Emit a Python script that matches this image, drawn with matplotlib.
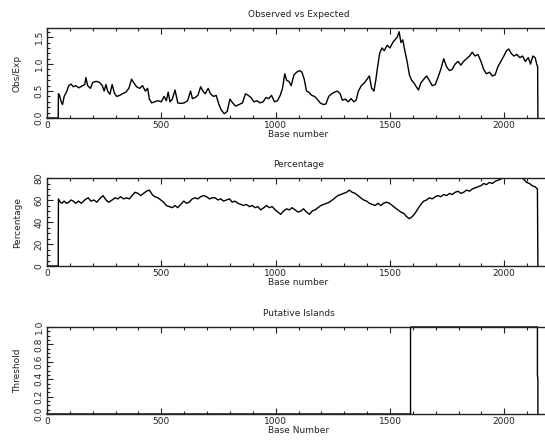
import matplotlib
matplotlib.use("Agg")
import matplotlib.pyplot as plt
from matplotlib.ticker import MultipleLocator

# Observed vs Expected (base, ratio)
obs_base = [0, 49, 50, 55, 62, 68, 75, 85, 95, 105, 115, 125, 140, 155, 165, 170, 178, 190, 200, 215,
            230, 242, 250, 258, 265, 275, 285, 295, 305, 318, 330, 345, 358, 370, 380, 392, 405, 418,
            430, 440, 448, 458, 470, 485, 500, 512, 522, 530, 538, 548, 560, 572, 585, 600, 615, 628,
            636, 648, 660, 672, 682, 692, 705, 715, 728, 740, 752, 762, 775, 788, 800, 812, 825, 840,
            855, 868, 880, 892, 905, 918, 932, 945, 958, 970, 982, 995, 1008, 1020, 1030, 1040, 1048,
            1058, 1068, 1080, 1092, 1105, 1115, 1125, 1135, 1145, 1158, 1170, 1182, 1195, 1208, 1220,
            1232, 1245, 1258, 1270, 1282, 1292, 1305, 1318, 1330, 1342, 1352, 1362, 1375, 1388, 1400,
            1410, 1420, 1430, 1438, 1446, 1455, 1465, 1475, 1488, 1500, 1512, 1522, 1532, 1540, 1548,
            1556, 1565, 1575, 1585, 1595, 1605, 1615, 1625, 1635, 1648, 1660, 1672, 1685, 1698, 1710,
            1722, 1735, 1748, 1760, 1772, 1785, 1798, 1810, 1822, 1835, 1848, 1860, 1872, 1885, 1898,
            1910, 1922, 1935, 1948, 1960, 1972, 1985, 1998, 2010, 2020, 2030, 2042, 2055, 2068, 2080,
            2092, 2105, 2115, 2125, 2135, 2142, 2146, 2147]
obs_ratio = [0, 0, 0.45, 0.42, 0.3, 0.25, 0.4, 0.48, 0.6, 0.63, 0.58, 0.6, 0.56, 0.6, 0.62, 0.75, 0.6,
             0.55, 0.66, 0.68, 0.66, 0.6, 0.5, 0.62, 0.5, 0.44, 0.62, 0.46, 0.4, 0.42, 0.45, 0.48, 0.55,
             0.72, 0.65, 0.58, 0.55, 0.6, 0.5, 0.55, 0.35, 0.28, 0.3, 0.32, 0.3, 0.4, 0.32, 0.48, 0.3,
             0.35, 0.52, 0.28, 0.27, 0.28, 0.32, 0.5, 0.36, 0.38, 0.42, 0.58, 0.5, 0.45, 0.55, 0.45,
             0.4, 0.42, 0.25, 0.15, 0.08, 0.12, 0.35, 0.28, 0.22, 0.25, 0.28, 0.45, 0.42, 0.38, 0.3,
             0.32, 0.28, 0.3, 0.38, 0.36, 0.42, 0.3, 0.32, 0.42, 0.55, 0.82, 0.7, 0.68, 0.6, 0.8, 0.85,
             0.88, 0.85, 0.72, 0.5, 0.48, 0.42, 0.4, 0.35, 0.28, 0.25, 0.26, 0.4, 0.45, 0.48, 0.5, 0.45,
             0.33, 0.35, 0.3, 0.36, 0.3, 0.33, 0.5, 0.6, 0.65, 0.72, 0.78, 0.55, 0.5, 0.7, 0.95, 1.2,
             1.3, 1.25, 1.35, 1.3, 1.4, 1.45, 1.5, 1.6, 1.4, 1.45, 1.25, 1.05, 0.8, 0.7, 0.65, 0.58,
             0.52, 0.65, 0.72, 0.78, 0.7, 0.6, 0.62, 0.75, 0.9, 1.1, 0.95, 0.88, 0.9, 1.0, 1.05, 0.98,
             1.05, 1.1, 1.15, 1.22, 1.15, 1.18, 1.05, 0.9, 0.82, 0.85, 0.78, 0.8, 0.95, 1.05, 1.15,
             1.25, 1.28, 1.2, 1.15, 1.18, 1.12, 1.15, 1.05, 1.12, 1.0, 1.15, 1.12, 1.0, 0.95, 0]

# Percentage (base, percent)
pct_base = [0, 49, 50, 58, 65, 75, 85, 95, 105, 115, 125, 138, 150, 165, 180, 192, 205, 218, 230, 245,
            258, 270, 285, 298, 310, 322, 335, 348, 360, 372, 385, 398, 410, 422, 435, 448, 460, 472,
            485, 498, 510, 522, 535, 548, 560, 572, 585, 598, 610, 622, 635, 648, 660, 672, 685, 698,
            710, 722, 735, 748, 760, 772, 785, 798, 810, 822, 835, 848, 860, 872, 885, 898, 910, 922,
            935, 948, 960, 972, 985, 998, 1010, 1022, 1035, 1048, 1060, 1072, 1085, 1098, 1110, 1122,
            1135, 1148, 1160, 1172, 1185, 1198, 1210, 1222, 1235, 1248, 1260, 1272, 1285, 1298, 1310,
            1322, 1335, 1348, 1360, 1372, 1385, 1398, 1410, 1422, 1435, 1448, 1460, 1472, 1485, 1498,
            1510, 1522, 1535, 1548, 1560, 1572, 1585, 1598, 1610, 1622, 1635, 1648, 1660, 1672, 1685,
            1698, 1710, 1722, 1735, 1748, 1760, 1772, 1785, 1798, 1810, 1822, 1835, 1848, 1860, 1872,
            1885, 1898, 1910, 1922, 1935, 1948, 1960, 1972, 1985, 1998, 2010, 2022, 2035, 2048, 2060,
            2072, 2085, 2098, 2110, 2122, 2135, 2145, 2147]
pct_value = [0, 0, 61, 58, 57, 59, 57, 58, 60, 59, 57, 59, 57, 60, 62, 59, 60, 58, 61, 64, 60, 58, 60,
             62, 61, 63, 61, 62, 61, 64, 67, 66, 64, 66, 68, 69, 65, 63, 62, 60, 58, 55, 54, 53, 55,
             53, 56, 59, 57, 58, 61, 62, 61, 63, 64, 63, 61, 62, 62, 60, 61, 59, 60, 61, 58, 59, 57,
             56, 55, 56, 54, 55, 53, 54, 51, 53, 55, 53, 54, 51, 49, 47, 50, 52, 51, 53, 51, 49, 50,
             52, 49, 47, 50, 51, 53, 55, 56, 57, 58, 60, 62, 64, 65, 66, 67, 69, 67, 66, 64, 62, 60,
             59, 57, 56, 55, 57, 55, 57, 58, 57, 55, 53, 51, 49, 48, 45, 43, 45, 48, 52, 56, 59, 60,
             62, 61, 63, 64, 63, 65, 64, 66, 65, 67, 68, 66, 67, 69, 68, 70, 71, 72, 73, 75, 74, 76,
             75, 77, 78, 79, 81, 80, 81, 80, 81, 81, 80, 79, 76, 75, 73, 72, 70, 0]

# Putative islands (base, threshold)
isl_base = [0, 1590, 1590, 2145, 2145, 2147, 2147]
isl_value = [0, 0, 1, 1, 0.45, 0.4, 0]

W, H = 545, 443
fig = plt.figure(figsize=(W / 100, H / 100), dpi=100)

ink = "#222222"
fs = 6.5
plt.rcParams["font.family"] = "DejaVu Sans"


def make_axes(top, bottom, ymax, ymajor, yminor):
    ax = fig.add_axes([47 / W, 1 - bottom / H, 503 / W, (bottom - top) / H])
    ax.set_xlim(0, 2200)
    ax.set_ylim(0, ymax)
    ax.xaxis.set_major_locator(MultipleLocator(500))
    ax.xaxis.set_minor_locator(MultipleLocator(100))
    ax.yaxis.set_major_locator(MultipleLocator(ymajor))
    ax.yaxis.set_minor_locator(MultipleLocator(yminor))
    ax.tick_params(which="both", direction="in", top=True, right=False, colors=ink,
                   labelsize=fs, width=0.8)
    ax.tick_params(which="major", length=4, pad=2.5)
    ax.tick_params(which="minor", length=2.5)
    for lab in ax.get_yticklabels():
        lab.set_rotation(90)
        lab.set_va("center")
    for s in ax.spines.values():
        s.set_color(ink)
        s.set_linewidth(1.0)
    ax.yaxis.set_label_coords(-0.05, 0.5)
    return ax


ax1 = make_axes(28, 118, 1.67, 0.5, 0.1)
ax1.plot(obs_base, obs_ratio, color="black", lw=1.0, clip_on=False)
ax1.set_title("Observed vs Expected", fontsize=fs, color=ink, pad=8)
ax1.set_xlabel("Base number", fontsize=fs, color=ink, labelpad=0)
ax1.set_ylabel("Obs/Exp", fontsize=fs, color=ink)
ax1.set_yticks([0, 0.5, 1.0, 1.5])
ax1.set_yticklabels(["0.0", "0.5", "1.0", "1.5"], rotation=90, va="center")

ax2 = make_axes(178, 266, 80, 20, 5)
ax2.plot(pct_base, pct_value, color="black", lw=1.0)
ax2.set_title("Percentage", fontsize=fs, color=ink, pad=8)
ax2.set_xlabel("Base number", fontsize=fs, color=ink, labelpad=0)
ax2.set_ylabel("Percentage", fontsize=fs, color=ink)
ax2.set_yticks([0, 20, 40, 60, 80])
ax2.set_yticklabels(["0", "20", "40", "60", "80"], rotation=90, va="center")

ax3 = make_axes(327, 414, 1.0, 0.2, 0.05)
ax3.plot(isl_base, isl_value, color="black", lw=1.0, clip_on=False)
ax3.set_title("Putative Islands", fontsize=fs, color=ink, pad=8)
ax3.set_xlabel("Base Number", fontsize=fs, color=ink, labelpad=0)
ax3.set_ylabel("Threshold", fontsize=fs, color=ink)
ax3.set_yticks([0, 0.2, 0.4, 0.6, 0.8, 1.0])
ax3.set_yticklabels(["0.0", "0.2", "0.4", "0.6", "0.8", "1.0"], rotation=90, va="center")

fig.savefig("out.png", dpi=100)
